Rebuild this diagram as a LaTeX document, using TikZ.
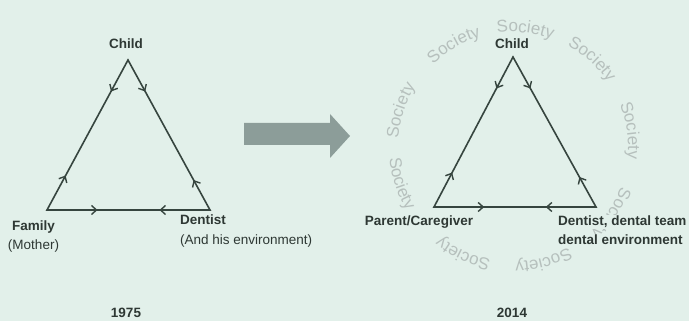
\documentclass[tikz,border=0pt]{standalone}
\usepackage{fontspec}
\setmainfont{Liberation Sans}
\usetikzlibrary{arrows.meta,decorations.markings,decorations.text}
\definecolor{bg}{HTML}{E2F0EA}
\definecolor{linec}{HTML}{36453F}
\definecolor{txtc}{HTML}{2E3834}
\definecolor{soc}{HTML}{B6C0BD}
\definecolor{bigarrow}{HTML}{8C9D99}
\tikzset{
  edgeline/.style={draw=linec, line width=1.6pt, line join=miter},
  tipmark/.style={postaction={decorate, decoration={markings,
      mark=at position #1 with {\arrow{Straight Barb[length=5pt,width=9pt,line width=1.4pt,color=linec]}}}}},
  lbl/.style={font=\fontsize{13.5}{16}\selectfont\bfseries, text=txtc, inner sep=0pt},
  sublbl/.style={font=\fontsize{13.5}{16}\selectfont, text=txtc, inner sep=0pt},
  society/.style={decorate, decoration={text along path,
      text={|\fontsize{17}{17}\selectfont\color{soc}|Society}, text align=center}},
}
\begin{document}
\begin{tikzpicture}[x=1pt, y=1pt]
\clip (0,0) rectangle (689,321);
\fill[bg] (0,0) rectangle (689,321);

% ---------- left triangle (1975)
\coordinate (C1) at (128,261);
\coordinate (F1) at (47,111);
\coordinate (D1) at (210,111);
\draw[edgeline] (C1) -- (F1) -- (D1) -- cycle;
\path[tipmark=0.21] (C1) -- (F1);
\path[tipmark=0.23] (F1) -- (C1);
\path[tipmark=0.21] (C1) -- (D1);
\path[tipmark=0.20] (D1) -- (C1);
\path[tipmark=0.31] (F1) -- (D1);
\path[tipmark=0.31] (D1) -- (F1);

\node[lbl] (child1) at (126,277) {Child};
\node[lbl] (fam) at (33.5,94) {Family};
\node[sublbl] (mother) at (33.5,75) {(Mother)};
\node[lbl, anchor=west] (dent1) at (180,101) {Dentist};
\node[sublbl, anchor=west] (env1) at (180,80) {(And his environment)};
\node[lbl] (y1) at (126,8) {1975};

% ---------- big arrow
\fill[bigarrow] (244,176) -- (330,176) -- (330,163) -- (350,185) -- (330,207) -- (330,198) -- (244,198) -- cycle;

% ---------- society ring (clockwise words)
\foreach \a in {84,120,162,245,285,326,8,48}{
  \path[society, shift={(513,174)}] ({\a+20}:115) arc[start angle=\a+20, end angle=\a-20, radius=115];
}
% one word read the other way
\path[society, shift={(513,174)}] (178:124) arc[start angle=178, end angle=218, radius=124];

% ---------- right triangle (2014)
\coordinate (C2) at (513,264);
\coordinate (P2) at (434,114);
\coordinate (D2) at (596,114);
\draw[edgeline] (C2) -- (P2) -- (D2) -- cycle;
\path[tipmark=0.21] (C2) -- (P2);
\path[tipmark=0.23] (P2) -- (C2);
\path[tipmark=0.21] (C2) -- (D2);
\path[tipmark=0.20] (D2) -- (C2);
\path[tipmark=0.31] (P2) -- (D2);
\path[tipmark=0.31] (D2) -- (P2);

\node[lbl, fill=bg, inner sep=1pt] (child2) at (512,277) {Child};
\node[lbl, fill=bg, inner sep=1pt] (parent) at (419,99) {Parent/Caregiver};
\node[lbl, fill=bg, inner sep=1pt, anchor=west] (dent2) at (557,99) {Dentist, dental team};
\node[lbl, fill=bg, inner sep=1pt, anchor=west] (env2) at (557,81) {dental environment};
\node[lbl] (y2) at (512,8) {2014};
\end{tikzpicture}
\end{document}
